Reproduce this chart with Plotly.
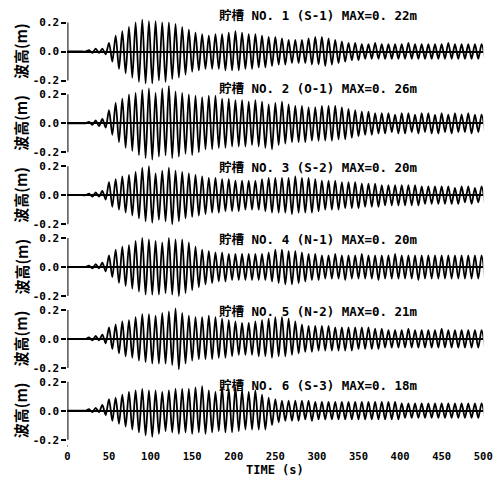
import plotly.graph_objects as go

# ---- data (wave heights in cm, one value per cycle) ----
PERIOD_S = 8.0          # oscillation period
FIRST_PEAK_S = 2.0

titles = [
    "貯槽 NO. 1 (S-1) MAX=0. 22m",
    "貯槽 NO. 2 (O-1) MAX=0. 26m",
    "貯槽 NO. 3 (S-2) MAX=0. 20m",
    "貯槽 NO. 4 (N-1) MAX=0. 20m",
    "貯槽 NO. 5 (N-2) MAX=0. 21m",
    "貯槽 NO. 6 (S-3) MAX=0. 18m",
]

peaks_1 = [0, 0, 0, 1, 2, 2, 6, 11, 14, 17, 20, 22, 21, 21, 20, 20, 19, 17, 15, 13, 12, 11,
           12, 12, 13, 14, 13, 12, 12, 11, 10, 10, 9, 8, 8, 8, 9, 10, 10, 9, 8, 7, 6, 6,
           5, 5, 6, 5, 5, 5, 5, 6, 5, 5, 5, 5, 5, 6, 5, 5, 5, 5, 5]
troughs_1 = [0, 0, 0, 1, 1, 2, 7, 12, 15, 18, 21, 22, 22, 20, 21, 19, 18, 16, 14, 13, 12, 12,
             12, 13, 13, 13, 12, 12, 11, 11, 10, 9, 9, 8, 8, 8, 9, 9, 10, 9, 8, 7, 6, 6,
             5, 5, 5, 5, 5, 5, 5, 5, 5, 5, 5, 5, 5, 5, 5, 5, 5, 5, 5]

peaks_2 = [0, 0, 0, 1, 2, 3, 9, 14, 17, 20, 21, 23, 24, 21, 24, 26, 22, 21, 20, 19, 18, 19,
           19, 17, 17, 16, 16, 15, 16, 15, 13, 14, 15, 13, 12, 12, 11, 11, 12, 12, 12, 11,
           10, 9, 8, 8, 7, 7, 7, 6, 7, 7, 6, 7, 7, 6, 7, 6, 7, 6, 7, 6, 6]
troughs_2 = [0, 0, 0, 1, 2, 3, 8, 13, 17, 19, 22, 24, 25, 23, 22, 24, 23, 21, 22, 20, 18, 18,
             17, 17, 16, 16, 16, 15, 16, 17, 18, 15, 14, 13, 13, 13, 12, 12, 12, 12, 11, 11,
             10, 9, 8, 8, 7, 7, 6, 7, 7, 6, 7, 6, 7, 7, 6, 7, 6, 6, 7, 6, 6]

peaks_3 = [0, 0, 0, 1, 2, 3, 9, 11, 13, 14, 16, 19, 20, 15, 17, 19, 17, 16, 15, 14, 13, 12,
           12, 11, 11, 10, 10, 10, 10, 11, 12, 12, 12, 12, 13, 12, 12, 11, 10, 10, 10, 9,
           9, 9, 8, 8, 8, 7, 7, 7, 7, 7, 7, 6, 6, 6, 6, 6, 5, 6, 6, 5, 6]
troughs_3 = [0, 0, 0, 1, 1, 3, 8, 10, 12, 14, 16, 18, 19, 17, 18, 20, 18, 16, 15, 14, 13, 12,
             12, 11, 11, 11, 10, 10, 10, 11, 12, 12, 12, 13, 12, 12, 12, 11, 10, 10, 10, 9,
             9, 9, 8, 8, 8, 7, 7, 7, 7, 7, 7, 6, 6, 6, 6, 6, 6, 5, 6, 5, 6]

peaks_4 = [0, 0, 0, 1, 2, 3, 8, 12, 14, 15, 18, 20, 19, 18, 17, 20, 19, 19, 17, 14, 12, 11,
           10, 10, 9, 9, 9, 9, 9, 9, 10, 12, 12, 11, 11, 10, 9, 9, 8, 8, 9, 8, 8, 8, 9, 8,
           8, 8, 8, 9, 8, 8, 8, 8, 8, 8, 8, 8, 8, 8, 8, 8, 8]
troughs_4 = [0, 0, 0, 1, 1, 3, 7, 11, 13, 15, 17, 19, 19, 19, 18, 19, 20, 18, 16, 14, 12, 11,
             10, 10, 9, 9, 9, 9, 9, 9, 10, 11, 12, 12, 11, 10, 9, 9, 8, 8, 8, 9, 8, 8, 8, 8,
             9, 8, 8, 8, 8, 8, 9, 8, 8, 8, 8, 8, 8, 8, 8, 8, 8]

peaks_5 = [0, 0, 0, 1, 2, 3, 8, 10, 12, 13, 15, 17, 17, 16, 18, 19, 21, 18, 16, 15, 15, 16,
           15, 14, 13, 12, 11, 11, 12, 13, 14, 15, 15, 14, 12, 10, 9, 9, 9, 9, 8, 8, 8, 8,
           8, 8, 7, 7, 6, 6, 6, 7, 6, 6, 6, 6, 7, 6, 6, 6, 6, 6, 6]
troughs_5 = [0, 0, 0, 1, 1, 3, 7, 10, 12, 13, 15, 16, 17, 17, 17, 18, 21, 17, 15, 14, 14, 14,
             13, 13, 12, 11, 11, 11, 12, 12, 13, 12, 12, 11, 10, 9, 9, 8, 8, 8, 8, 8, 8, 7,
             7, 7, 7, 6, 6, 6, 6, 6, 6, 6, 6, 6, 6, 6, 6, 6, 6, 6, 6]

peaks_6 = [0, 0, 0, 1, 2, 4, 8, 9, 11, 13, 14, 15, 14, 14, 13, 14, 15, 15, 15, 16, 17, 14,
           13, 16, 15, 16, 14, 13, 14, 11, 9, 8, 7, 7, 7, 7, 7, 6, 6, 6, 6, 6, 6, 6, 6, 6,
           6, 6, 6, 6, 5, 5, 5, 5, 5, 5, 5, 5, 5, 5, 5, 5, 5]
troughs_6 = [0, 0, 0, 1, 1, 3, 7, 9, 11, 13, 15, 17, 18, 16, 14, 15, 16, 15, 16, 15, 16, 15,
             14, 15, 15, 14, 13, 13, 13, 13, 10, 8, 7, 7, 7, 6, 7, 6, 6, 6, 6, 6, 6, 6, 6, 6,
             6, 6, 6, 6, 5, 5, 5, 5, 5, 5, 5, 5, 5, 5, 5, 5, 5]

peaks = [peaks_1, peaks_2, peaks_3, peaks_4, peaks_5, peaks_6]
troughs = [troughs_1, troughs_2, troughs_3, troughs_4, troughs_5, troughs_6]

x_tick_vals = [0, 50, 100, 150, 200, 250, 300, 350, 400, 450, 500]
y_tick_vals = [-0.2, 0.0, 0.2]
y_tick_text = ["-0.2", "0.0", "0.2"]

# ---- layout geometry (pixels) ----
W, H = 502, 480
X0, X1 = 66, 492
ZEROS = [51.5, 123.3, 195.2, 267.0, 338.9, 410.7]
TITLE_Y = [16, 88, 167, 239, 311, 385]
PX_PER_UNIT = 145.0
YR = 0.26
HALF = YR * PX_PER_UNIT

MONO = "DejaVu Sans Mono, Noto Sans CJK JP"
CJK = "Noto Sans CJK JP"

fig = go.Figure()
layout = dict(
    width=W, height=H, margin=dict(l=0, r=0, t=0, b=0),
    paper_bgcolor="white", plot_bgcolor="white", showlegend=False,
    xaxis=dict(domain=[X0 / W, X1 / W], range=[0, 500], anchor="free",
               position=1 - 446 / H, showline=True, linecolor="black", linewidth=2,
               ticks="inside", ticklen=4, tickwidth=2, tickcolor="black",
               tickvals=x_tick_vals, ticktext=[str(v) for v in x_tick_vals],
               tickfont=dict(family=MONO, size=10.5, color="black", weight="bold"),
               minor=dict(ticks="inside", ticklen=3, tickwidth=1, dtick=25, tickcolor="black"),
               showgrid=False, zeroline=False, fixedrange=True),
)
shapes = []
annotations = []
for i in range(6):
    z = ZEROS[i]
    name = "yaxis" if i == 0 else f"yaxis{i+1}"
    yref = "y" if i == 0 else f"y{i+1}"
    layout[name] = dict(
        domain=[1 - (z + HALF) / H, 1 - (z - HALF) / H], range=[-YR, YR], anchor="x",
        showline=False, ticks="outside", ticklen=5, tickwidth=2, tickcolor="black",
        tickvals=y_tick_vals, ticktext=y_tick_text,
        tickfont=dict(family=MONO, size=11, color="black", weight="bold"),
        zeroline=True, zerolinecolor="black", zerolinewidth=1.5,
        showgrid=False, fixedrange=True)
    xs, ys = [0.0], [0.0]
    for k, (p, q) in enumerate(zip(peaks[i], troughs[i])):
        t = FIRST_PEAK_S + PERIOD_S * k
        xs += [t, t + PERIOD_S / 2]
        ys += [p / 100.0, -q / 100.0]
    fig.add_trace(go.Scatter(x=xs, y=ys, xaxis="x", yaxis=yref, mode="lines",
                             line=dict(color="black", width=1.8, shape="spline", smoothing=0.8),
                             hoverinfo="skip"))
    shapes.append(dict(type="line", xref="x", yref=yref, x0=0, x1=0, y0=-0.2, y1=0.2,
                       line=dict(color="black", width=2)))
    annotations.append(dict(text="波高(m)", xref="paper", yref="paper", x=18 / W,
                            y=1 - z / H, textangle=-90, showarrow=False,
                            xanchor="center", yanchor="middle",
                            font=dict(family=CJK, size=15, color="black", weight="bold")))
    annotations.append(dict(text=titles[i], xref="paper", yref="paper", x=219 / W,
                            y=1 - TITLE_Y[i] / H, showarrow=False,
                            xanchor="left", yanchor="middle",
                            font=dict(family=MONO, size=12.5, color="black", weight="bold")))

annotations.append(dict(text="TIME (s)", xref="paper", yref="paper", x=(X0 + X1) / 2 / W,
                        y=1 - 470 / H, showarrow=False, xanchor="center", yanchor="middle",
                        font=dict(family=MONO, size=12, color="black", weight="bold")))
layout["shapes"] = shapes
layout["annotations"] = annotations
fig.update_layout(**layout)
fig.write_html("out.html")
